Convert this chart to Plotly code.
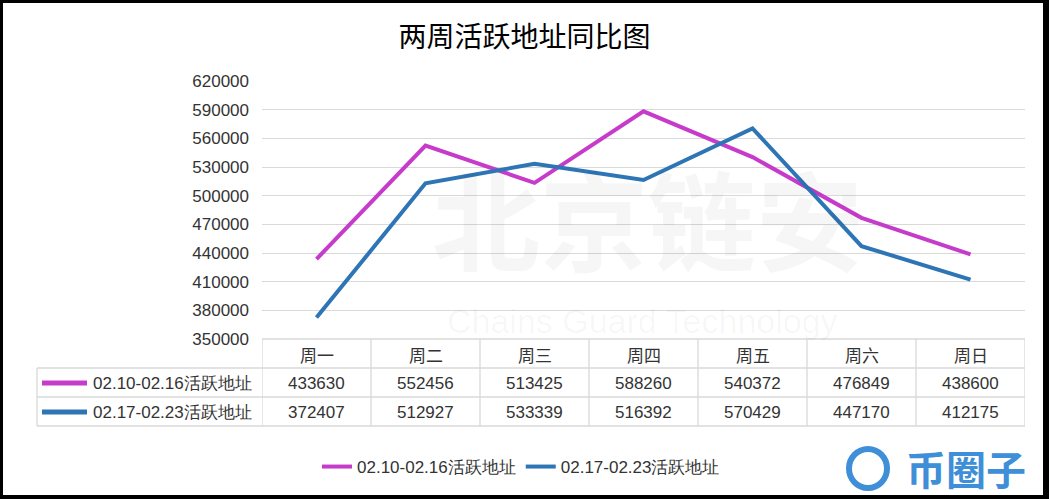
import plotly.graph_objects as go

# ---------------- data ----------------
categories = ["周一", "周二", "周三", "周四", "周五", "周六", "周日"]
series_names = ["02.10-02.16活跃地址", "02.17-02.23活跃地址"]
week1 = [433630, 552456, 513425, 588260, 540372, 476849, 438600]
week2 = [372407, 512927, 533339, 516392, 570429, 447170, 412175]
series_values = [week1, week2]
y_min, y_max, y_step = 350000, 620000, 30000
title_text = "两周活跃地址同比图"

# ---------------- style ----------------
colors = ["#C73BCB", "#2E75B6"]
W_FIG, H_FIG = 1049, 499
L, R, T, B = 262, 1025, 81, 339
PW, PH = R - L, B - T
grid_col = "#D9D9D9"
txt_col = "#333333"
num_font = "Liberation Sans, Arial, sans-serif"
cjk_font = "Noto Sans CJK SC, sans-serif"


def px(x):
    return (x - L) / PW


def py(y):
    return (B - y) / PH


fig = go.Figure()
for name, vals, c in zip(series_names, series_values, colors):
    fig.add_trace(go.Scatter(x=categories, y=vals, name=name, mode="lines",
                             line=dict(color=c, width=4), hoverinfo="x+y"))

shapes = []
annotations = []

# table rows (pixel positions of row lines)
row_lines = [339, 368, 397, 426]
table_left = 37
n = len(categories)
shapes.append(dict(type="line", xref="x", yref="paper", x0=-0.5, x1=n - 0.5,
                   y0=py(row_lines[0]), y1=py(row_lines[0]), line=dict(color=grid_col, width=1.3)))
for yl in row_lines[1:]:
    shapes.append(dict(type="line", xref="paper", yref="paper", x0=px(table_left), x1=1,
                       y0=py(yl), y1=py(yl), line=dict(color=grid_col, width=1.3)))
for i in range(n + 1):
    shapes.append(dict(type="line", xref="x", yref="paper", x0=i - 0.5, x1=i - 0.5,
                       y0=py(row_lines[0]), y1=py(row_lines[-1]), line=dict(color=grid_col, width=1.3)))
shapes.append(dict(type="line", xref="paper", yref="paper", x0=px(table_left), x1=px(table_left),
                   y0=py(row_lines[1]), y1=py(row_lines[-1]), line=dict(color=grid_col, width=1.3)))

# header labels
for cat in categories:
    annotations.append(dict(x=cat, xref="x", y=py(354), yref="paper", text=cat, showarrow=False,
                            font=dict(family=cjk_font, size=17, color=txt_col),
                            xanchor="center", yanchor="middle"))
# values and row labels
row_centers = [383, 412]
for name, vals, c, yc in zip(series_names, series_values, colors, row_centers):
    for cat, v in zip(categories, vals):
        annotations.append(dict(x=cat, xref="x", y=py(yc), yref="paper", text=str(v), showarrow=False,
                                font=dict(family=num_font, size=17, color=txt_col),
                                xanchor="center", yanchor="middle"))
    shapes.append(dict(type="line", xref="paper", yref="paper", x0=px(42), x1=px(87),
                       y0=py(yc), y1=py(yc), line=dict(color=c, width=5)))
    annotations.append(dict(x=px(91), xref="paper", y=py(yc), yref="paper", text=name, showarrow=False,
                            xanchor="left", yanchor="middle",
                            font=dict(family=num_font, size=17, color=txt_col)))

# watermark
annotations.append(dict(x=px(648), xref="paper", y=py(216), yref="paper", text="北京链安", showarrow=False,
                        xanchor="center", yanchor="middle",
                        font=dict(family=cjk_font, size=108, color="rgba(0,0,0,0.035)", weight="bold")))
annotations.append(dict(x=px(642), xref="paper", y=py(321), yref="paper", text="Chains Guard Technology",
                        showarrow=False, xanchor="center", yanchor="middle",
                        font=dict(family=num_font, size=34, color="rgba(0,0,0,0.035)")))

# 币圈子 logo
annotations.append(dict(x=px(966), xref="paper", y=py(468), yref="paper", text="币圈子", showarrow=False,
                        xanchor="center", yanchor="middle",
                        font=dict(family=cjk_font, size=40, color="#3F8ED8", weight="bold")))
shapes.append(dict(type="circle", xref="paper", yref="paper", x0=px(849), x1=px(887),
                   y0=py(488), y1=py(449), line=dict(color="#3F8ED8", width=6)))

# black frame
for x0, x1, y0, y1 in [(0, 3, 0, 499), (1043, 1049, 0, 499), (0, 1049, 0, 3), (0, 1049, 495, 499)]:
    shapes.append(dict(type="rect", xref="paper", yref="paper", x0=px(x0), x1=px(x1),
                       y0=py(y1), y1=py(y0), fillcolor="black", line=dict(width=0), layer="above"))

fig.update_layout(
    width=W_FIG, height=H_FIG,
    margin=dict(l=L, r=W_FIG - R, t=T, b=H_FIG - B),
    paper_bgcolor="white", plot_bgcolor="white",
    title=dict(text=title_text, x=0.5, xanchor="center", y=1 - 37 / H_FIG, yanchor="middle",
               font=dict(family=cjk_font, size=28, color="black")),
    xaxis=dict(type="category", range=[-0.5, n - 0.5], showgrid=False, showticklabels=False,
               zeroline=False, showline=False, ticks=""),
    yaxis=dict(range=[y_min, y_max], dtick=y_step, tick0=y_min, showgrid=True, gridcolor=grid_col,
               gridwidth=1.3, zeroline=False, showline=False, ticks="", ticklabelstandoff=12,
               tickformat="d", tickfont=dict(family=num_font, size=17, color=txt_col)),
    showlegend=True,
    legend=dict(orientation="h", x=px(521), xanchor="center", y=py(467), yanchor="middle",
                font=dict(family=num_font, size=17, color=txt_col), bgcolor="rgba(0,0,0,0)"),
    shapes=shapes, annotations=annotations,
)

fig.write_html("out.html", config={"displayModeBar": False},
               post_script="document.body.style.margin='0';document.body.style.overflow='hidden';")
